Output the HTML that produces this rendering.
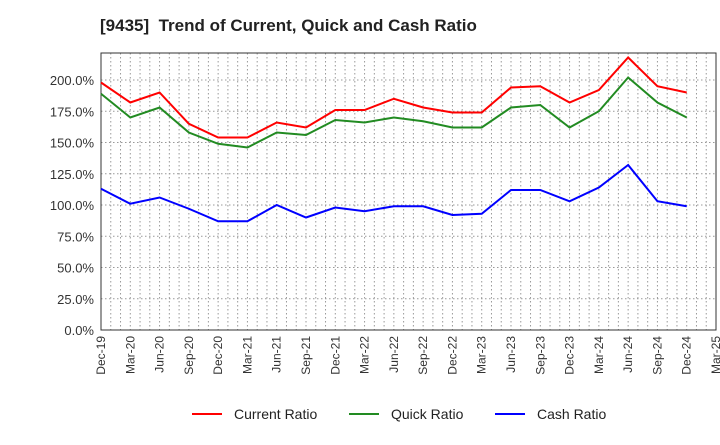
<!DOCTYPE html>
<html><head><meta charset="utf-8"><style>body{margin:0;background:#fff}svg{font-family:"Liberation Sans",sans-serif}</style></head>
<body>
<svg id="c" width="720" height="440" xmlns="http://www.w3.org/2000/svg">
<text x="100" y="31" font-size="17" font-weight="bold" fill="#222" xml:space="preserve" style="white-space:pre">[9435]  Trend of Current, Quick and Cash Ratio</text>
<g id="grid"></g><g id="axes"></g><g id="series"></g>
<g>
<line x1="192" y1="414" x2="222" y2="414" stroke="#f00" stroke-width="2"/><text x="234" y="419" font-size="14" fill="#222">Current Ratio</text>
<line x1="349" y1="414" x2="379" y2="414" stroke="#228b22" stroke-width="2"/><text x="391" y="419" font-size="14" fill="#222">Quick Ratio</text>
<line x1="495" y1="414" x2="525" y2="414" stroke="#00f" stroke-width="2"/><text x="537" y="419" font-size="14" fill="#222">Cash Ratio</text>
</g>
</svg>
<script>
const categories=["Dec-19","Mar-20","Jun-20","Sep-20","Dec-20","Mar-21","Jun-21","Sep-21","Dec-21","Mar-22","Jun-22","Sep-22","Dec-22","Mar-23","Jun-23","Sep-23","Dec-23","Mar-24","Jun-24","Sep-24","Dec-24","Mar-25"];
const currentRatio=[198,182,190,165,154,154,166,162,176,176,185,178,174,174,194,195,182,192,218,195,190];
const quickRatio=[189,170,178,158,149,146,158,156,168,166,170,167,162,162,178,180,162,175,202,182,170];
const cashRatio=[113,101,106,97,87,87,100,90,98,95,99,99,92,93,112,112,103,114,132,103,99];
const yTicks=[0,25,50,75,100,125,150,175,200];
const L=101,R=716,T=53,B=330,YMAX=221.6;
const NS="http://www.w3.org/2000/svg";
const xs=i=>L+(R-L)*i/(categories.length-1);
const ys=v=>B-(B-T)*v/YMAX;
function mk(p,tag,a){const e=document.createElementNS(NS,tag);for(const k in a)e.setAttribute(k,a[k]);document.getElementById(p).appendChild(e);return e;}
for(let m=1;m<(categories.length-1)*3;m++){const x=L+(R-L)*m/((categories.length-1)*3);
const g=mk('grid','line',{x1:x,x2:x,y1:T,y2:B,stroke:'#999','stroke-dasharray':'1.5,2.5','stroke-width':1});

}
yTicks.forEach(v=>{const y=ys(v);
if(v>0){const g=mk('grid','line',{x1:L,x2:R,y1:y,y2:y,stroke:'#999','stroke-dasharray':'1.5,2.5'});

}
const t=mk('axes','text',{x:94,y:y+5,'font-size':13,fill:'#333','text-anchor':'end'});t.textContent=v.toFixed(1)+'%';

});
const fr=mk('axes','rect',{x:L,y:T,width:R-L,height:B-T,fill:'none',stroke:'#333'});


categories.forEach((c,i)=>{const x=xs(i);
const t=mk('axes','text',{x:x+4,y:B+6,'font-size':12,fill:'#333','text-anchor':'end',transform:`rotate(-90 ${x+4} ${B+6})`});t.textContent=c;

});
[[currentRatio,'#f00','current-ratio-line'],[quickRatio,'#228b22','quick-ratio-line'],[cashRatio,'#00f','cash-ratio-line']].forEach(([d,col,n])=>{
const p=mk('series','polyline',{points:d.map((v,i)=>xs(i)+','+ys(v)).join(' '),fill:'none',stroke:col,'stroke-width':2});

});
</script>
</body></html>
